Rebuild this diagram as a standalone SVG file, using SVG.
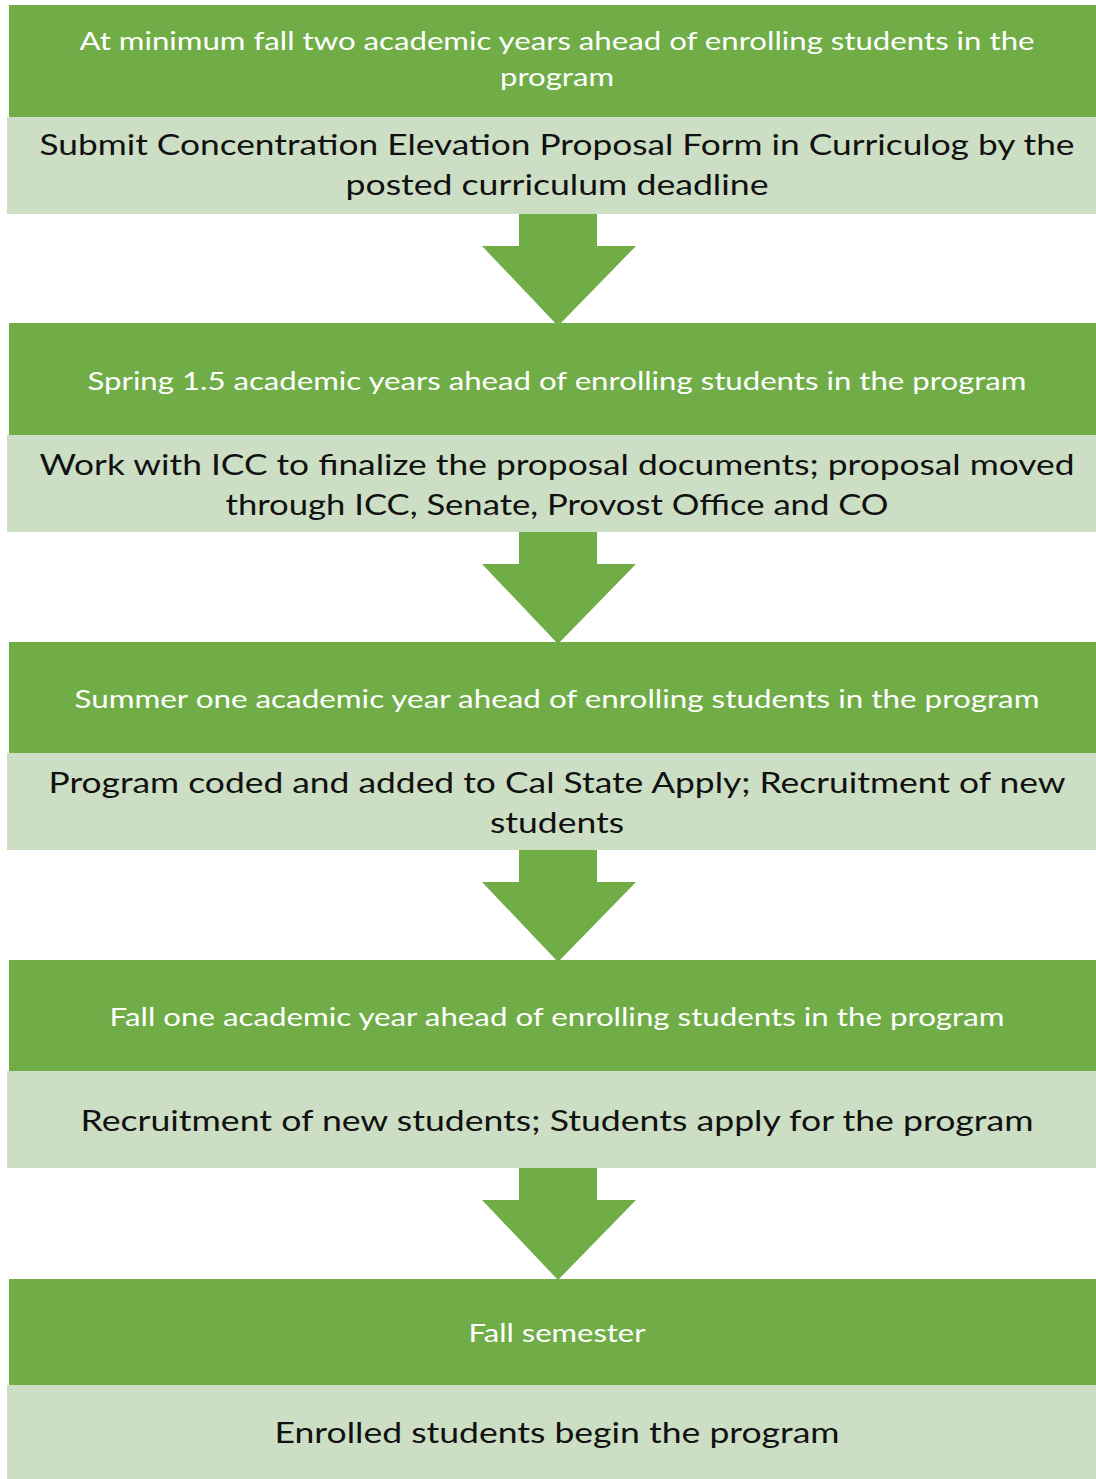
<svg xmlns="http://www.w3.org/2000/svg" width="1096" height="1479" viewBox="0 0 1096 1479">
<style>
.hd{fill:#70AD47}
.bd{fill:#CCDEC3}
.ht{fill:#FFFFFF;font-family:Lato,"Open Sans","Liberation Sans",sans-serif;font-size:25px;text-anchor:middle}
.bt{fill:#111111;font-family:Lato,"Open Sans","Liberation Sans",sans-serif;font-size:29px;text-anchor:middle}
.arr{fill:#70AD47}
</style>
<rect width="1096" height="1479" fill="#FFFFFF"/>
<g id="node1">
<rect class="hd" x="9" y="5" width="1087" height="112"/>
<rect class="bd" x="7" y="117" width="1089" height="97"/>
<text class="ht" x="557" y="50" textLength="955" lengthAdjust="spacingAndGlyphs">At minimum fall two academic years ahead of enrolling students in the</text>
<text class="ht" x="557" y="86" textLength="114" lengthAdjust="spacingAndGlyphs">program</text>
<text class="bt" x="557" y="155" textLength="1035" lengthAdjust="spacingAndGlyphs">Submit Concentration Elevation Proposal Form in Curriculog by the</text>
<text class="bt" x="557" y="195" textLength="423" lengthAdjust="spacingAndGlyphs">posted curriculum deadline</text>
</g>
<g id="node2">
<rect class="hd" x="9" y="323" width="1087" height="112"/>
<rect class="bd" x="7" y="435" width="1089" height="97"/>
<text class="ht" x="557" y="390" textLength="939" lengthAdjust="spacingAndGlyphs">Spring 1.5 academic years ahead of enrolling students in the program</text>
<text class="bt" x="557" y="475" textLength="1035" lengthAdjust="spacingAndGlyphs">Work with ICC to finalize the proposal documents; proposal moved</text>
<text class="bt" x="557" y="515" textLength="663" lengthAdjust="spacingAndGlyphs">through ICC, Senate, Provost Office and CO</text>
</g>
<g id="node3">
<rect class="hd" x="9" y="642" width="1087" height="111"/>
<rect class="bd" x="7" y="753" width="1089" height="97"/>
<text class="ht" x="557" y="708" textLength="965" lengthAdjust="spacingAndGlyphs">Summer one academic year ahead of enrolling students in the program</text>
<text class="bt" x="557" y="793" textLength="1017" lengthAdjust="spacingAndGlyphs">Program coded and added to Cal State Apply; Recruitment of new</text>
<text class="bt" x="557" y="833" textLength="134" lengthAdjust="spacingAndGlyphs">students</text>
</g>
<g id="node4">
<rect class="hd" x="9" y="960" width="1087" height="111"/>
<rect class="bd" x="7" y="1071" width="1089" height="97"/>
<text class="ht" x="557" y="1026" textLength="895" lengthAdjust="spacingAndGlyphs">Fall one academic year ahead of enrolling students in the program</text>
<text class="bt" x="557" y="1131" textLength="953" lengthAdjust="spacingAndGlyphs">Recruitment of new students; Students apply for the program</text>
</g>
<g id="node5">
<rect class="hd" x="9" y="1279" width="1087" height="106"/>
<rect class="bd" x="7" y="1385" width="1089" height="94"/>
<text class="ht" x="557" y="1342" textLength="177" lengthAdjust="spacingAndGlyphs">Fall semester</text>
<text class="bt" x="557" y="1443" textLength="565" lengthAdjust="spacingAndGlyphs">Enrolled students begin the program</text>
</g>
<g id="connectors">
<polygon class="arr" points="519,214 597,214 597,246 636,246 558,326 482,246 519,246"/>
<polygon class="arr" points="519,532 597,532 597,564 636,564 558,644 482,564 519,564"/>
<polygon class="arr" points="519,850 597,850 597,882 636,882 558,962 482,882 519,882"/>
<polygon class="arr" points="519,1168 597,1168 597,1200 636,1200 558,1280 482,1200 519,1200"/>
</g>
</svg>
